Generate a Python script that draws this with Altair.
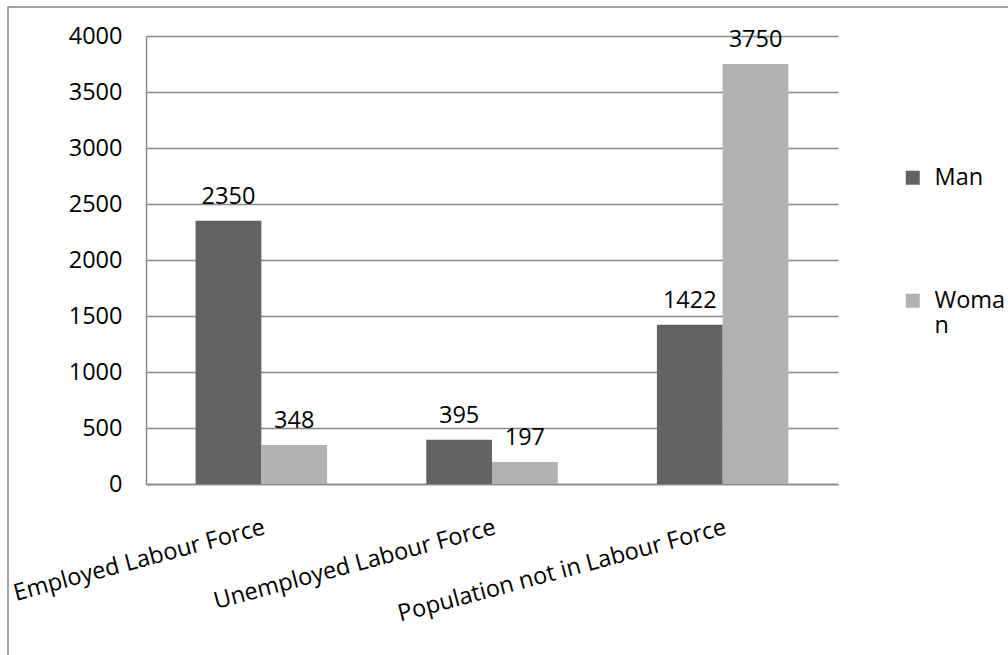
import altair as alt
import pandas as pd

categories = ["Employed Labour Force", "Unemployed Labour Force", "Population not in Labour Force"]
series = ["Man", "Woman"]
man = [2350, 395, 1422]
woman = [348, 197, 3750]
colors = ["#636363", "#b2b2b2"]
y_ticks = [0, 500, 1000, 1500, 2000, 2500, 3000, 3500, 4000]

rows = []
for c, m, w in zip(categories, man, woman):
    rows.append({"category": c, "series": "Man", "value": m})
    rows.append({"category": c, "series": "Woman", "value": w})
df = pd.DataFrame(rows)

FONT = "Open Sans"
FS = 23.5
GRAY = "#878787"

x = alt.X(
    "category:N", sort=categories,
    scale=alt.Scale(paddingInner=0.43, paddingOuter=0.215),
    axis=alt.Axis(title=None, labelAngle=-15, labelAlign="right", labelBaseline="top",
                  labelPadding=31, ticks=False, domainColor=GRAY, domainWidth=1.5,
                  labelFontSize=FS, labelFont=FONT, labelColor="black", labelLimit=0),
)
xo = alt.XOffset("series:N", sort=series, scale=alt.Scale(paddingInner=0, paddingOuter=0))
y = alt.Y(
    "value:Q", scale=alt.Scale(domain=[0, 4000], nice=False),
    axis=alt.Axis(values=y_ticks, title=None, ticks=False, labelPadding=24, format="d",
                  gridColor=GRAY, gridWidth=1.5, domainColor=GRAY, domainWidth=1.5,
                  labelFontSize=FS, labelFont=FONT, labelColor="black"),
)
color = alt.Color(
    "series:N", sort=series, scale=alt.Scale(domain=series, range=colors),
    legend=alt.Legend(title=None, orient="none", legendX=755, legendY=130,
                      symbolType="square", symbolSize=196, symbolStrokeWidth=0,
                      labelFontSize=FS, labelFont=FONT, labelColor="black",
                      labelOffset=10, rowPadding=98, padding=0,
                      labelExpr="datum.label == 'Woman' ? ['Woma', 'n'] : datum.label"),
)

bars = alt.Chart(df).mark_bar().encode(x=x, xOffset=xo, y=y, color=color)
labels = alt.Chart(df).mark_text(baseline="alphabetic", dy=-17, font=FONT, fontSize=FS,
                                 color="black").encode(
    x=alt.X("category:N", sort=categories), xOffset=xo, y=alt.Y("value:Q"),
    text=alt.Text("value:Q", format="d"))

frame = alt.Chart(alt.Data(values=[{"a": 1}])).mark_rect(
    filled=False, stroke=GRAY, strokeWidth=1.5).encode(
    x=alt.value(-138), x2=alt.value(880), y=alt.value(-29), y2=alt.value(700))

chart = alt.layer(frame, bars, labels).properties(
    width=692, height=448,
    autosize=alt.AutoSizeParams(type="none"),
    padding={"left": 146, "top": 36, "right": 170, "bottom": 171},
    background="white",
).configure_view(strokeWidth=0)

chart.save("out.html", embed_options={"renderer": "svg", "actions": False})
